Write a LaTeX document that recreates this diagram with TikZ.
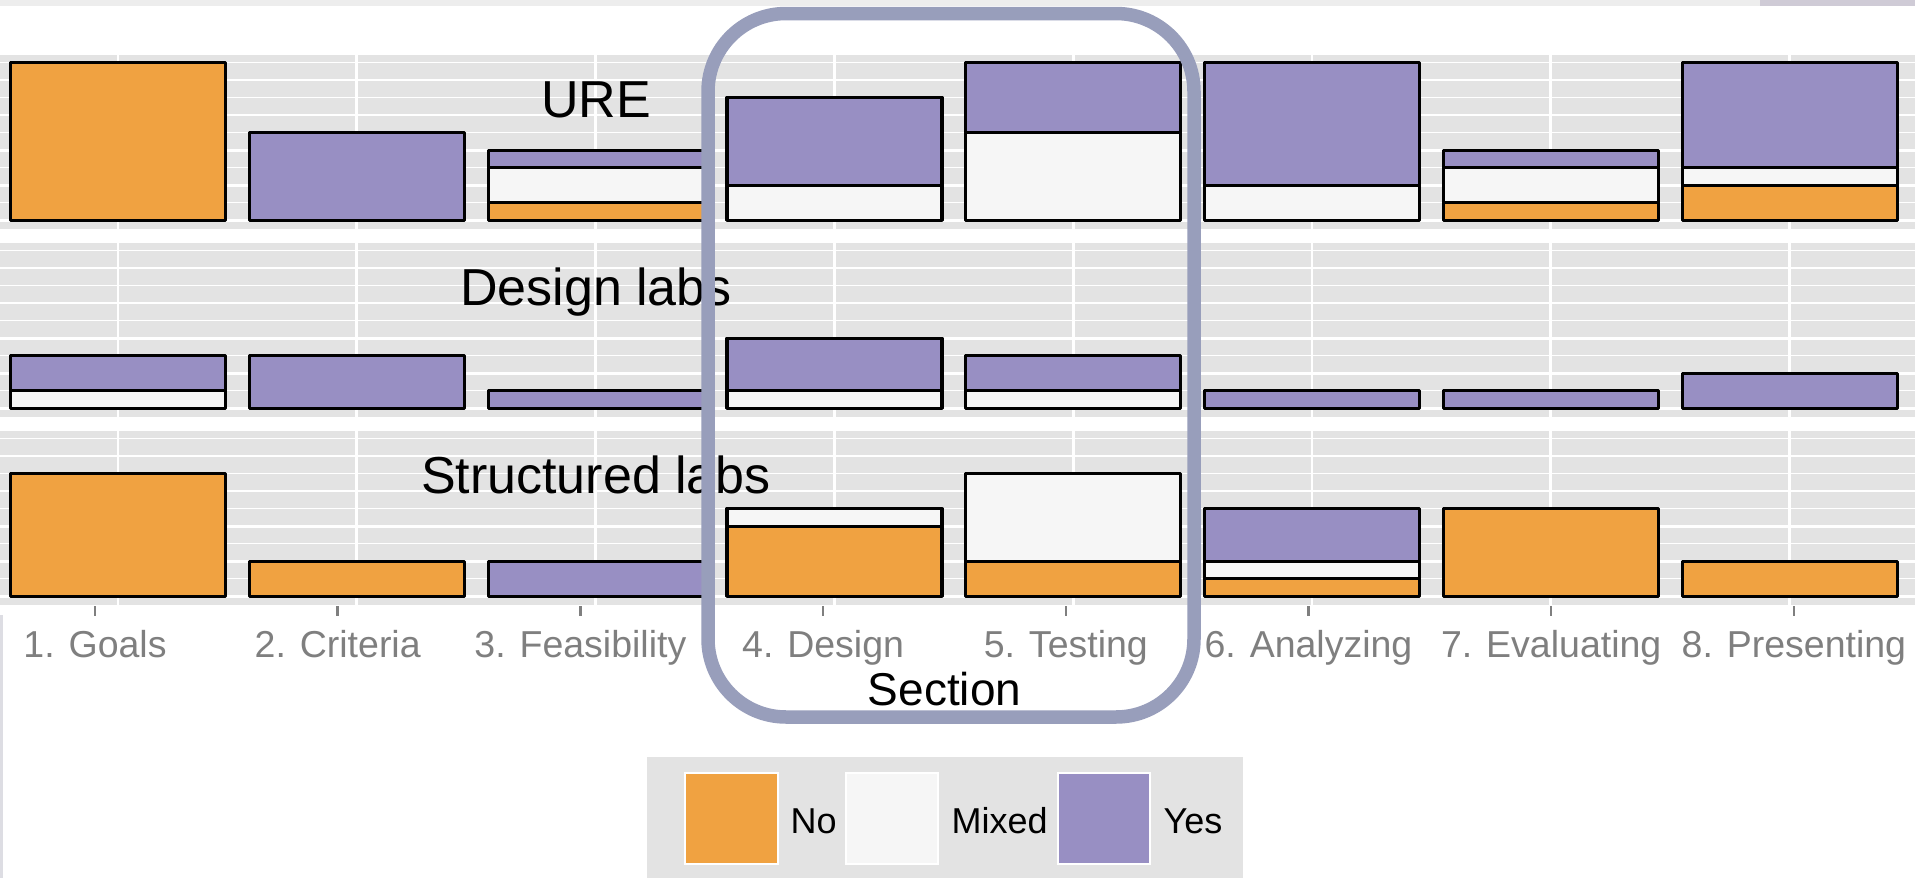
\documentclass[tikz,border=0pt]{standalone}
\usepackage{fontspec}
\setmainfont{Liberation Sans}
\definecolor{cno}{HTML}{F0A241}
\definecolor{cmix}{HTML}{F6F6F6}
\definecolor{cyes}{HTML}{988FC3}
\definecolor{panelbg}{HTML}{E3E3E3}
\definecolor{framecol}{HTML}{989EBB}
\definecolor{axisgray}{HTML}{7F7F7F}
\definecolor{stripgray}{HTML}{EDEDED}
\definecolor{stripdark}{HTML}{CFCBD6}
\definecolor{edgegray}{HTML}{DDDDE3}

% one unit of the count axis, in picture units (1 unit = 1pt, y grows downward)
\def\U{17.55}

\tikzset{
  panelfill/.style={fill=panelbg},
  majorgrid/.style={draw=white, line width=2.8pt},
  minorgrid/.style={draw=white, line width=1.4pt},
  seg/.style={draw=black, line width=3.2pt, line join=round},
  axistick/.style={draw=axisgray, line width=2.5pt},
  axislabel/.style={anchor=base, text=axisgray, font=\fontsize{37.5}{44}\selectfont},
  striplabel/.style={anchor=base, text=black, font=\fontsize{52}{60}\selectfont},
  titlelabel/.style={anchor=base, text=black, font=\fontsize{46}{54}\selectfont},
  legendlabel/.style={anchor=base west, text=black, font=\fontsize{36}{42}\selectfont},
  legendkey/.style={draw=white, line width=1.5pt},
  highlight/.style={draw=framecol, line width=13.5pt, rounded corners=78pt},
}

% stacked bar: baseline y, category index, counts No / Mixed / Yes
\newcommand\stackedbar[5]{%
  \pgfmathsetmacro\cx{118+(#2-1)*238.8}%
  \pgfmathsetmacro\xl{\cx-107.5}%
  \pgfmathsetmacro\xr{\cx+107.5}%
  \pgfmathsetmacro\ya{#1-#3*\U}%
  \pgfmathsetmacro\yb{\ya-#4*\U}%
  \pgfmathsetmacro\yc{\yb-#5*\U}%
  \ifnum#3>0 \draw[seg, fill=cno] (\xl,#1) rectangle (\xr,\ya);\fi
  \ifnum#4>0 \draw[seg, fill=cmix] (\xl,\ya) rectangle (\xr,\yb);\fi
  \ifnum#5>0 \draw[seg, fill=cyes] (\xl,\yb) rectangle (\xr,\yc);\fi
}

\begin{document}
\begin{tikzpicture}[x=1pt, y=-1pt]
\useasboundingbox (0,0) rectangle (1915,878);
\fill[white] (0,0) rectangle (1915,878);

% thin bands along the edges
\fill[stripgray] (0,0) rectangle (1760,6);
\fill[stripdark] (1760,0) rectangle (1915,6);
\fill[edgegray] (0,615) rectangle (3,878);

% facet panels with grid
\foreach \p in {220.3,408.3,596.3}{
  \fill[panelfill] (0,\p-165.8) rectangle (1915,\p+8.8);
  \foreach \k in {1,3,5,7,9}
    \draw[minorgrid] (0,\p-\k*\U) -- (1915,\p-\k*\U);
  \foreach \k in {0,2,4,6,8}
    \draw[majorgrid] (0,\p-\k*\U) -- (1915,\p-\k*\U);
  \foreach \i in {0,...,7}
    \draw[majorgrid] (118+\i*238.8,\p-165.8) -- (118+\i*238.8,\p+8.8);
}

% facet labels
\node[striplabel] (ure) at (596,117.3) {URE};
\node[striplabel] (design) at (596,305) {Design labs};
\node[striplabel] (structured) at (596,493) {Structured labs};

% URE
\stackedbar{220.3}{1}{9}{0}{0}
\stackedbar{220.3}{2}{0}{0}{5}
\stackedbar{220.3}{3}{1}{2}{1}
\stackedbar{220.3}{4}{0}{2}{5}
\stackedbar{220.3}{5}{0}{5}{4}
\stackedbar{220.3}{6}{0}{2}{7}
\stackedbar{220.3}{7}{1}{2}{1}
\stackedbar{220.3}{8}{2}{1}{6}

% Design labs
\stackedbar{408.3}{1}{0}{1}{2}
\stackedbar{408.3}{2}{0}{0}{3}
\stackedbar{408.3}{3}{0}{0}{1}
\stackedbar{408.3}{4}{0}{1}{3}
\stackedbar{408.3}{5}{0}{1}{2}
\stackedbar{408.3}{6}{0}{0}{1}
\stackedbar{408.3}{7}{0}{0}{1}
\stackedbar{408.3}{8}{0}{0}{2}

% Structured labs
\stackedbar{596.3}{1}{7}{0}{0}
\stackedbar{596.3}{2}{2}{0}{0}
\stackedbar{596.3}{3}{0}{0}{2}
\stackedbar{596.3}{4}{4}{1}{0}
\stackedbar{596.3}{5}{2}{5}{0}
\stackedbar{596.3}{6}{1}{1}{3}
\stackedbar{596.3}{7}{5}{0}{0}
\stackedbar{596.3}{8}{2}{0}{0}

% x axis
\foreach \i/\lab in {0/1. Goals,1/2. Criteria,2/3. Feasibility,3/4. Design,
                     4/5. Testing,5/6. Analyzing,6/7. Evaluating,7/8. Presenting}{
  \draw[axistick] (95+\i*242.7,606) -- (95+\i*242.7,616);
  \node[axislabel] (tick\i) at (95+\i*242.7,657) {\lab};
}
\node[titlelabel] (section) at (944.5,705) {Section};

% highlight around sections 4 and 5
\draw[highlight] (708,13.5) rectangle (1194,717);

% legend
\fill[panelbg] (647,757) rectangle (1243,878);
\filldraw[legendkey, fill=cno] (685,773) rectangle (778,864);
\filldraw[legendkey, fill=cmix] (846,773) rectangle (938,864);
\filldraw[legendkey, fill=cyes] (1058,773) rectangle (1150,864);
\node[legendlabel] (lno) at (787,833) {No};
\node[legendlabel] (lmix) at (948,833) {Mixed};
\node[legendlabel] (lyes) at (1160,833) {Yes};
\end{tikzpicture}
\end{document}
